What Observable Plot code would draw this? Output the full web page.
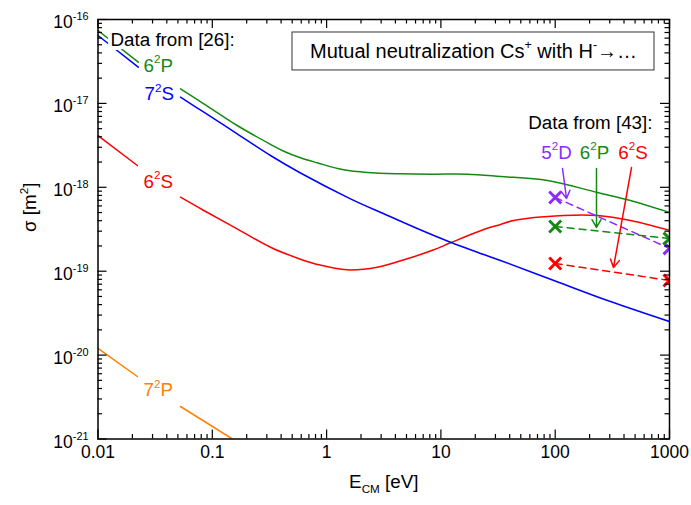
<!DOCTYPE html>
<html><head><meta charset="utf-8">
<script src="https://cdn.jsdelivr.net/npm/d3@7"></script>
<script src="https://cdn.jsdelivr.net/npm/@observablehq/plot@0.6"></script>
<style>
body{margin:0;background:#fff;}
#chart{width:691px;height:505px;}
#chart svg{font-family:"Liberation Sans",Arial,sans-serif;}
</style></head><body><div id="chart"></div>
<script>
// ---------- data (E_CM in eV, sigma in m^2); null = break where a label sits ----------
const GAP = null;
const theory6P = [[0.01,7.39e-17],[0.0225,3.10e-17],GAP,
  [0.0527,1.493e-17],[0.0843,9.89e-18],[0.1651,5.45e-18],[0.3229,3.255e-18],[0.4222,2.693e-18],
  [0.591,2.247e-18],[0.8276,1.959e-18],[1.414,1.616e-18],[2.266,1.501e-18],[4.432,1.449e-18],
  [8.668,1.433e-18],[16.99,1.433e-18],[33.22,1.345e-18],[85.7,1.205e-18],[234.5,8.67e-19],
  [456,6.96e-19],[1000,5.01e-19]];
const theory7S = [[0.01,6.44e-17],[0.0225,2.70e-17],GAP,
  [0.0527,1.186e-17],[0.0843,7.855e-18],[0.1651,4.342e-18],[0.3229,2.393e-18],[0.591,1.481e-18],
  [1.618,7.293e-19],[3.166,4.832e-19],[6.204,3.228e-19],[12.13,2.216e-19],[23.73,1.581e-19],
  [33.22,1.341e-19],[100,7.641e-20],[286.9,4.474e-20],[1000,2.514e-20]];
const theory6S = [[0.01,4.14e-18],[0.0221,1.82e-18],GAP,
  [0.0527,7.621e-19],[0.0843,5.29e-19],[0.1651,3.201e-19],[0.3229,1.932e-19],[0.591,1.39e-19],
  [0.8276,1.205e-19],[1.514,1.039e-19],[2.772,1.116e-19],[5.073,1.405e-19],[8.668,1.799e-19],
  [12.13,2.181e-19],[23.73,3.14e-19],[33.22,3.601e-19],[43.2,4.02e-19],[118.2,4.61e-19],
  [234.5,4.61e-19],[456,4.02e-19],[1000,3.06e-19]];
const theory7P = [[0.01,1.20e-20],[0.0221,5.56e-21],GAP,[0.0527,2.44e-21],[0.15,1.0e-21]];

const expE  = [100, 1000];
const exp5D = [7.56e-19, 1.87e-19];
const exp6P = [3.41e-19, 2.45e-19];
const exp6S = [1.236e-19, 7.75e-20];

const xTicks = [0.01, 0.1, 1, 10, 100, 1000];
const xTickLabels = ["0.01", "0.1", "1", "10", "100", "1000"];
const yTicks = [1e-21, 1e-20, 1e-19, 1e-18, 1e-17, 1e-16];
const yTickLabels = ["10^{-21}", "10^{-20}", "10^{-19}", "10^{-18}", "10^{-17}", "10^{-16}"];
const minorMult = [2,3,4,5,6,7,8,9];

const COLORS = {p6:"#138a13", s7:"#0000ff", s6:"#ff0000", p7:"#ff8000", d5:"#8c2bff"};

// ---------- layout ----------
const W = 691, H = 505, mL = 97.5, mR = 22, mT = 19, mB = 66.5;
const FW = W - mL - mR, FH = H - mT - mB;
const FONT = 18.8, TICKFONT = 17.5, TITLEFONT = 20;

function rows(series) {
  let seg = 0; const out = [];
  for (const p of series) { if (p === null) { seg++; continue; } out.push({x: p[0], y: p[1], seg}); }
  return out;
}
const expRows = (vals) => expE.map((e, i) => ({x: e, y: vals[i]}));
const xMinor = xTicks.slice(0, -1).flatMap(t => minorMult.map(m => t * m));
const yMinor = yTicks.slice(0, -1).flatMap(t => minorMult.map(m => t * m));

const theoryLine = (s, c) => Plot.line(rows(s), {x: "x", y: "y", z: "seg", stroke: c, strokeWidth: 1.5, curve: "catmull-rom", clip: true});
const dashLine = (v, c) => Plot.line(expRows(v), {x: "x", y: "y", stroke: c, strokeWidth: 1.5, strokeDasharray: "7,5", clip: true});
const crosses = (v, c) => Plot.dot(expRows(v), {x: "x", y: "y", symbol: "times", r: 5.5, stroke: c, strokeWidth: 3, clip: true});
const label = (t, x, y, c, anchor = "start", extra = {}) =>
  Plot.text([t], {x: () => x, y: () => y, text: d => d, fill: c, fontSize: FONT, textAnchor: anchor, ...extra});
const arrow = (x1, y1, x2, y2, c) =>
  Plot.arrow([0], {x1: () => x1, y1: () => y1, x2: () => x2, y2: () => y2, stroke: c, strokeWidth: 1.5, headLength: 9});

const tickLen = 9, minorLen = 4.5;
const plot = Plot.plot({
  width: W, height: H, marginLeft: mL, marginRight: mR, marginTop: mT, marginBottom: mB,
  x: {type: "log", domain: [0.01, 1000], axis: null},
  y: {type: "log", domain: [1e-21, 1e-16], axis: null},
  style: {fontFamily: '"Liberation Sans", Arial, sans-serif', background: "white", color: "black"},
  marks: [
    theoryLine(theory7P, COLORS.p7),
    theoryLine(theory6S, COLORS.s6),
    theoryLine(theory7S, COLORS.s7),
    theoryLine(theory6P, COLORS.p6),
    dashLine(exp5D, COLORS.d5), dashLine(exp6P, COLORS.p6), dashLine(exp6S, COLORS.s6),
    crosses(exp5D, COLORS.d5), crosses(exp6P, COLORS.p6), crosses(exp6S, COLORS.s6),
    arrow(115.8, 1.675e-18, 125.6, 7.35e-19, COLORS.d5),
    arrow(229.8, 1.675e-18, 229.8, 3.32e-19, COLORS.p6),
    arrow(465, 1.72e-18, 323.6, 1.107e-19, COLORS.s6),
    // labels
    label("Data from [26]:", 0.01286, 5.78e-17, "black", "start", {stroke: "white", strokeWidth: 8, paintOrder: "stroke"}),
    label("6^{2}P", 0.0250, 2.83e-17, COLORS.p6),
    label("7^{2}S", 0.0255, 1.294e-17, COLORS.s7),
    label("6^{2}S", 0.0250, 1.173e-18, COLORS.s6),
    label("7^{2}P", 0.0250, 3.79e-21, COLORS.p7),
    label("Data from [43]:", 710, 5.92e-18, "black", "end"),
    label("5^{2}D", 102.6, 2.60e-18, COLORS.d5, "middle"),
    label("6^{2}P", 220.7, 2.60e-18, COLORS.p6, "middle"),
    label("6^{2}S", 479, 2.60e-18, COLORS.s6, "middle"),
    // title box
    Plot.rect([0], {x1: () => 0.503, x2: () => 739, y1: () => 7.0e-17, y2: () => 2.47e-17, fill: "white", stroke: "#333", strokeWidth: 1}),
    label("Mutual neutralization Cs^{+} with H^{-}\u2192\u2026", 19.3, 4.16e-17, "black", "middle", {fontSize: TITLEFONT}),
    // inward ticks on all four sides
    Plot.ruleX(xTicks, {x: d => d, insetTop: FH - tickLen, strokeWidth: 1.2}),
    Plot.ruleX(xTicks, {x: d => d, insetBottom: FH - tickLen, strokeWidth: 1.2}),
    Plot.ruleX(xMinor, {x: d => d, insetTop: FH - minorLen, strokeWidth: 1.2}),
    Plot.ruleX(xMinor, {x: d => d, insetBottom: FH - minorLen, strokeWidth: 1.2}),
    Plot.ruleY(yTicks, {y: d => d, insetRight: FW - tickLen, strokeWidth: 1.2}),
    Plot.ruleY(yTicks, {y: d => d, insetLeft: FW - tickLen, strokeWidth: 1.2}),
    Plot.ruleY(yMinor, {y: d => d, insetRight: FW - minorLen, strokeWidth: 1.2}),
    Plot.ruleY(yMinor, {y: d => d, insetLeft: FW - minorLen, strokeWidth: 1.2}),
    Plot.frame({stroke: "black", strokeWidth: 1.5}),
    // tick labels
    Plot.text(xTicks, {x: d => d, frameAnchor: "bottom", dy: 19, text: (d, i) => xTickLabels[i], fontSize: TICKFONT, fill: "black"}),
    Plot.text(yTicks, {y: d => d, frameAnchor: "left", dx: -9.5, dy: 3, textAnchor: "end", text: (d, i) => yTickLabels[i], fontSize: TICKFONT, fill: "black"}),
    // axis titles
    Plot.text(["E_{CM} [eV]"], {frameAnchor: "bottom", dy: 48.5, text: d => d, fontSize: FONT, fill: "black"}),
    Plot.text(["\u03c3 [m^{2}]"], {frameAnchor: "left", y: () => 2.93e-19, dx: -68, rotate: -90, text: d => d, fontSize: FONT, fill: "black"})
  ]
});
document.getElementById("chart").appendChild(plot);

// turn ^{..} / _{..} markup into real superscript / subscript tspans
function richify(svg) {
  const NS = "http://www.w3.org/2000/svg";
  d3.select(svg).selectAll("text").each(function () {
    const t = this, s = t.textContent;
    if (!/[\^_]\{/.test(s)) return;
    const fs = parseFloat(getComputedStyle(t).fontSize) || FONT;
    t.textContent = "";
    const add = (txt, dy, size) => {
      const ts = document.createElementNS(NS, "tspan");
      ts.textContent = txt;
      if (dy) ts.setAttribute("dy", dy);
      if (size) ts.setAttribute("font-size", size);
      t.appendChild(ts);
    };
    const re = /([\^_])\{([^}]*)\}/g;
    let last = 0, m, shift = 0;
    while ((m = re.exec(s))) {
      if (m.index > last) { add(s.slice(last, m.index), -shift); shift = 0; }
      const d = m[1] === "^" ? -0.45 * fs : 0.28 * fs;
      add(m[2], d - shift, 0.62 * fs);
      shift = d;
      last = re.lastIndex;
    }
    if (last < s.length) add(s.slice(last), -shift);
  });
}
richify(plot);
</script></body></html>
